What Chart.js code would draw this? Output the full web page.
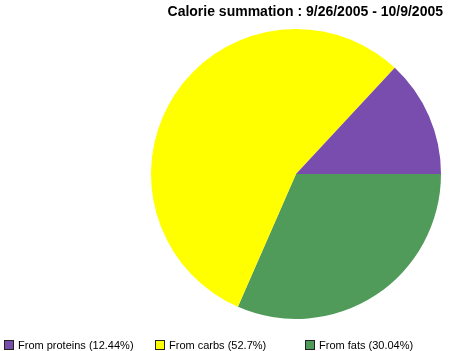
<!DOCTYPE html>
<html lang="en">
<head>
<meta charset="UTF-8" />
<title>Calorie summation</title>
<script src="https://cdn.jsdelivr.net/npm/chart.js"></script>
<style>
  body { margin: 0; background: #fff; font-family: "Liberation Sans", Arial, sans-serif; }
  #wrap { position: relative; width: 450px; height: 351px; overflow: hidden; }
  #titulo { position: absolute; top: 3px; right: 7px; font-weight: bold; font-size: 14px; color: #000; white-space: nowrap; }
  #leyenda { position: absolute; left: 0; top: 339px; width: 450px; height: 12px; }
  .item { position: absolute; top: 0; font-size: 11px; line-height: 12px; color: #000; white-space: nowrap; }
  .caja { display: inline-block; width: 8px; height: 8px; border: 1px solid #222; vertical-align: -1px; margin-right: 4px; }
</style>
</head>
<body>
<div id="wrap">
  <canvas id="grafica" width="450" height="351"></canvas>
  <div id="titulo"></div>
  <div id="leyenda"></div>
</div>
<script>
const tituloTexto = "Calorie summation : 9/26/2005 - 10/9/2005";
const categorias = ["From proteins", "From carbs", "From fats"];
const porcentajes = [12.44, 52.7, 30.04];
const colores = ["#784DAE", "#FFFF00", "#509B5A"];
const posLeyenda = [4, 155, 305];

document.getElementById("titulo").textContent = tituloTexto;

const leyenda = document.getElementById("leyenda");
categorias.forEach((c, i) => {
  const div = document.createElement("div");
  div.className = "item";
  div.style.left = posLeyenda[i] + "px";
  div.innerHTML = `<span class="caja" style="background:${colores[i]}"></span>${c} (${porcentajes[i]}%)`;
  leyenda.appendChild(div);
});

// the original goes counter-clockwise from 3 o'clock; Chart.js goes clockwise, so reverse
const datos = porcentajes.slice().reverse();
const fondo = colores.slice().reverse();
const etiquetas = categorias.slice().reverse();

new Chart(document.getElementById("grafica"), {
  type: 'pie',
  data: {
    labels: etiquetas,
    datasets: [{
      data: datos,
      backgroundColor: fondo,
      borderWidth: 0
    }]
  },
  options: {
    responsive: false,
    animation: false,
    rotation: 90,
    layout: { padding: { left: 151, right: 9, top: 29, bottom: 32 } },
    plugins: {
      legend: { display: false },
      title: { display: false },
      tooltip: { enabled: false }
    }
  }
});
</script>
</body>
</html>
